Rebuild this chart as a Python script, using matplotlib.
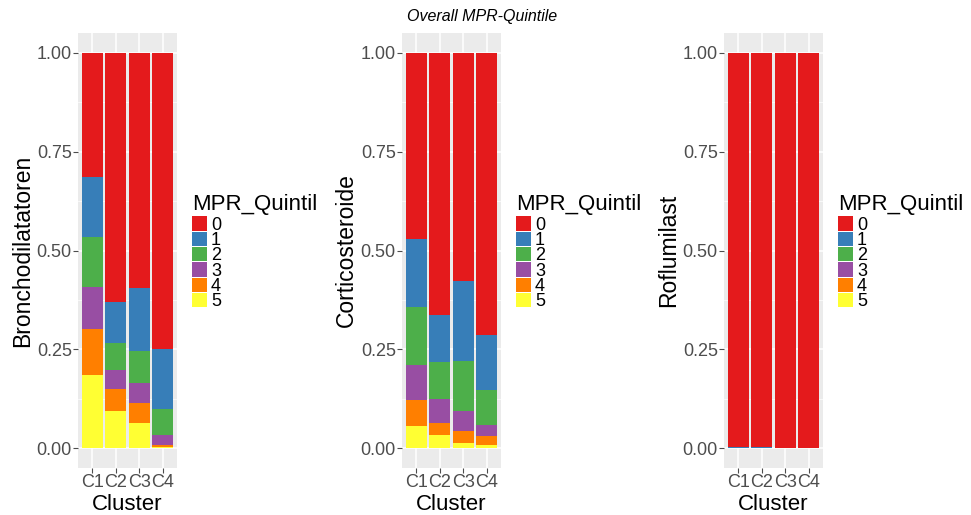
import matplotlib
matplotlib.use("Agg")
import matplotlib.pyplot as plt
from matplotlib.patches import Patch
import numpy as np

# Share of patients per MPR quintile within each cluster (rows: quintile 0..5)
clusters = ["C1", "C2", "C3", "C4"]
quintiles = ["0", "1", "2", "3", "4", "5"]

broncho = [
    [0.313, 0.630, 0.596, 0.749],   # 0
    [0.153, 0.103, 0.157, 0.151],   # 1
    [0.127, 0.068, 0.082, 0.066],   # 2
    [0.105, 0.049, 0.050, 0.026],   # 3
    [0.116, 0.057, 0.052, 0.006],   # 4
    [0.186, 0.093, 0.063, 0.002],   # 5
]
cortico = [
    [0.470, 0.662, 0.576, 0.713],
    [0.173, 0.121, 0.203, 0.141],
    [0.146, 0.092, 0.126, 0.087],
    [0.090, 0.060, 0.051, 0.029],
    [0.064, 0.031, 0.031, 0.022],
    [0.057, 0.034, 0.013, 0.008],
]
roflu = [
    [0.996, 0.997, 1.000, 1.000],
    [0.004, 0.003, 0.000, 0.000],
    [0.000, 0.000, 0.000, 0.000],
    [0.000, 0.000, 0.000, 0.000],
    [0.000, 0.000, 0.000, 0.000],
    [0.000, 0.000, 0.000, 0.000],
]

panels = [
    ("Bronchodilatatoren", broncho),
    ("Corticosteroide", cortico),
    ("Roflumilast", roflu),
]

SET1 = ["#E41A1C", "#377EB8", "#4DAF4A", "#984EA3", "#FF7F00", "#FFFF33"]
BG = "#EBEBEB"
TICK = "#4D4D4D"

W, H = 971, 515
fig = plt.figure(figsize=(W / 100, H / 100), dpi=100)
plt.rcParams["font.family"] = ["Liberation Sans", "DejaVu Sans"]

panel_left = [78, 402, 724]
legend_left = [192, 516, 838]
pw, p_top, p_bot = 99, 33, 468


def px_axes(x0, y0, x1, y1):
    return fig.add_axes([x0 / W, 1 - y1 / H, (x1 - x0) / W, (y1 - y0) / H])


for (ylabel, data), x0, lx in zip(panels, panel_left, legend_left):
    ax = px_axes(x0, p_top, x0 + pw, p_bot)
    ax.set_facecolor(BG)
    vals = np.array(data)
    x = np.arange(len(clusters))

    # ggplot-style stacking: quintile 5 at the bottom, 0 on top
    bottom = np.zeros(len(clusters))
    for q in range(len(quintiles) - 1, -1, -1):
        ax.bar(x, vals[q], 0.9, bottom=bottom, color=SET1[q], linewidth=0, zorder=2)
        bottom += vals[q]

    ax.set_xlim(-0.6, 3.6)
    ax.set_ylim(-0.05, 1.05)
    ax.set_yticks([0, 0.25, 0.5, 0.75, 1.0])
    ax.set_yticklabels(["0.00", "0.25", "0.50", "0.75", "1.00"])
    ax.set_yticks([0.125, 0.375, 0.625, 0.875], minor=True)
    ax.set_xticks(x)
    ax.set_xticklabels(clusters)
    ax.grid(which="major", color="white", linewidth=1.1, zorder=0)
    ax.grid(which="minor", axis="y", color="white", linewidth=0.5, zorder=0)
    ax.set_axisbelow(True)
    for s in ax.spines.values():
        s.set_visible(False)
    ax.tick_params(which="major", colors=TICK, labelsize=13, length=3.5, width=0.8, pad=1)
    ax.tick_params(which="minor", length=0)
    for lbl in ax.get_xticklabels() + ax.get_yticklabels():
        lbl.set_color(TICK)
    ax.set_xlabel("Cluster", fontsize=16, labelpad=2)
    ax.set_ylabel(ylabel, fontsize=16.5, labelpad=2)

    handles = [Patch(facecolor=c, edgecolor="none") for c in SET1]
    leg = fig.legend(handles, quintiles, loc="upper left",
                     bbox_to_anchor=(lx / W, 1 - 194 / H), frameon=False,
                     title="MPR_Quintil", title_fontsize=16, fontsize=13,
                     handlelength=0.85, handleheight=0.85, labelspacing=-0.12,
                     handletextpad=0.2, borderaxespad=0, borderpad=0)
    leg._legend_box.align = "left"
    leg._legend_box.sep = 1

fig.text(482 / W, 1 - 17 / H, "Overall MPR-Quintile", ha="center", va="center",
         fontsize=11.5, style="italic")

fig.savefig("out.png", dpi=100)
